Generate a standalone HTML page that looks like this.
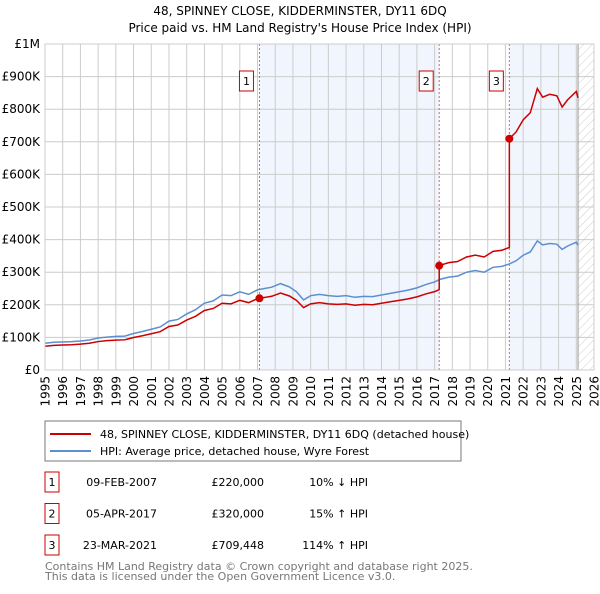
<!DOCTYPE html>
<html><head><meta charset="utf-8"><style>
body{margin:0;background:#fff;font-family:"DejaVu Sans","Liberation Sans",sans-serif;}
svg text{font-family:"DejaVu Sans","Liberation Sans",sans-serif;}
</style></head><body>
<svg id="c" width="600" height="590" xmlns="http://www.w3.org/2000/svg">
<defs><pattern id="hatch" width="6" height="6" patternUnits="userSpaceOnUse" patternTransform="rotate(45)"><line x1="0" y1="0" x2="0" y2="6" stroke="#ccc" stroke-width="1"/></pattern></defs>
<text x="300" y="15" text-anchor="middle" font-size="12">48, SPINNEY CLOSE, KIDDERMINSTER, DY11 6DQ</text>
<text x="300" y="32" text-anchor="middle" font-size="12">Price paid vs. HM Land Registry's House Price Index (HPI)</text>
<g id="plot"></g>
<rect x="45" y="421" width="416" height="40" fill="#fff" stroke="#777"/>
<line x1="50" y1="434" x2="91" y2="434" stroke="#cc0000" stroke-width="2"/>
<text x="100" y="438" font-size="11">48, SPINNEY CLOSE, KIDDERMINSTER, DY11 6DQ (detached house)</text>
<line x1="50" y1="451" x2="91" y2="451" stroke="#5b8fd0" stroke-width="2"/>
<text x="100" y="455" font-size="11">HPI: Average price, detached house, Wyre Forest</text>
<g id="tbl" font-size="11"></g>
<text x="45" y="570" font-size="11" fill="#777">Contains HM Land Registry data © Crown copyright and database right 2025.</text>
<text x="45" y="580" font-size="11" fill="#777">This data is licensed under the Open Government Licence v3.0.</text>
</svg>
<script>
const hpiYears=[1995,1995.5,1996,1996.5,1997,1997.5,1998,1998.5,1999,1999.5,2000,2000.5,2001,2001.5,2002,2002.5,2003,2003.5,2004,2004.5,2005,2005.5,2006,2006.5,2007,2007.4,2007.8,2008.3,2008.8,2009.2,2009.6,2010,2010.5,2011,2011.5,2012,2012.5,2013,2013.5,2014,2014.5,2015,2015.5,2016,2016.5,2017,2017.3,2017.8,2018.3,2018.8,2019.3,2019.8,2020.3,2020.8,2021.2,2021.6,2022,2022.4,2022.8,2023.1,2023.5,2023.9,2024.2,2024.5,2025,2025.1];
const hpiValues=[82,85,86,87,89,92,98,101,103,104,112,118,125,132,150,155,172,185,205,212,230,228,240,232,246,250,254,265,255,240,215,228,232,228,226,228,223,226,225,230,235,240,245,252,262,270,278,285,288,300,305,300,315,318,325,335,352,362,396,384,388,386,370,380,392,383];
const saleYears=[2007.11,2017.26,2021.22];
const salePrices=[220000,320000,709448];
const saleDates=["09-FEB-2007","05-APR-2017","23-MAR-2021"];
const salePriceLabels=["£220,000","£320,000","£709,448"];
const saleHpiLabels=["10% ↓ HPI","15% ↑ HPI","114% ↑ HPI"];
const yTicks=[0,100000,200000,300000,400000,500000,600000,700000,800000,900000,1000000];
const yTickLabels=["£0","£100K","£200K","£300K","£400K","£500K","£600K","£700K","£800K","£900K","£1M"];
const xTicks=[1995,1996,1997,1998,1999,2000,2001,2002,2003,2004,2005,2006,2007,2008,2009,2010,2011,2012,2013,2014,2015,2016,2017,2018,2019,2020,2021,2022,2023,2024,2025,2026];

const X0=45,X1=594,Y0=370,Y1=44;
const xs=y=>X0+(y-1995)/(2026-1995)*(X1-X0);
const ys=v=>Y0-v/1000000*(Y0-Y1);
const NS="http://www.w3.org/2000/svg";
const plot=document.getElementById('plot');
function mk(tag,attrs,parent){const e=document.createElementNS(NS,tag);for(const k in attrs)e.setAttribute(k,attrs[k]);(parent||plot).appendChild(e);return e;}
function hpiAt(y){for(let i=0;i<hpiYears.length-1;i++){if(y<=hpiYears[i+1]){const t=(y-hpiYears[i])/(hpiYears[i+1]-hpiYears[i]);return (hpiValues[i]+t*(hpiValues[i+1]-hpiValues[i]))*1000;}}return hpiValues[hpiValues.length-1]*1000;}

const bg=mk('rect',{x:X0,y:Y1,width:X1-X0,height:Y0-Y1,fill:'#fff'});


const sh1=mk('rect',{x:xs(saleYears[0]),y:Y1,width:xs(saleYears[1])-xs(saleYears[0]),height:Y0-Y1,fill:'#eef3fc',opacity:0.8});


const sh2=mk('rect',{x:xs(saleYears[2]),y:Y1,width:xs(2025.1)-xs(saleYears[2]),height:Y0-Y1,fill:'#eef3fc',opacity:0.8});


const ht=mk('rect',{x:xs(2025.1),y:Y1,width:X1-xs(2025.1),height:Y0-Y1,fill:'url(#hatch)'});



yTicks.forEach((v,i)=>{
  const g=mk('line',{x1:X0,x2:X1,y1:ys(v),y2:ys(v),stroke:'#ccc'});
  
  
  const t=mk('text',{x:40,y:ys(v)+4,'text-anchor':'end','font-size':12});
  t.textContent=yTickLabels[i];
  
  
});
xTicks.forEach(y=>{
  const g=mk('line',{x1:xs(y),x2:xs(y),y1:Y1,y2:Y0,stroke:'#ccc'});
  
  
  const tx=xs(y)+4.5,ty=376;
  const t=mk('text',{x:tx,y:ty,'text-anchor':'end','font-size':12,transform:'rotate(-90 '+tx+' '+ty+')'});
  t.textContent=y;
  
  
});
const fl=mk('line',{x1:xs(2025.1),x2:xs(2025.1),y1:Y1,y2:Y0,stroke:'#999'});



saleYears.forEach((y,i)=>{
  const l=mk('line',{x1:xs(y),x2:xs(y),y1:Y1,y2:Y0,stroke:'#e06060','stroke-dasharray':'2,2'});
  
  
  const r=mk('rect',{x:xs(y)-20,y:71,width:14,height:20,fill:'#fff',stroke:'#cc0000'});
  
  
  const t=mk('text',{x:xs(y)-13,y:85,'text-anchor':'middle','font-size':11});
  t.textContent=i+1;
  
  
});

const hp=mk('polyline',{points:hpiYears.map((y,i)=>xs(y)+','+ys(hpiValues[i]*1000)).join(' '),fill:'none',stroke:'#5b8fd0','stroke-width':1.5});



const pts=[];
function segIdx(y){let k=-1;saleYears.forEach((s,i)=>{if(y>=s)k=i;});return k;}
const allYears=hpiYears.filter(y=>y<=2025.1).concat(saleYears).sort((a,b)=>a-b);
allYears.forEach(y=>{
  let k=segIdx(y);
  if(k<0)k=0;
  const isSale=saleYears.indexOf(y);
  if(isSale>0){const p=saleYears[isSale-1];pts.push([y,salePrices[isSale-1]*hpiAt(y)/hpiAt(p)]);}
  pts.push([y,salePrices[k]*hpiAt(y)/hpiAt(saleYears[k])]);
});
const pl=mk('polyline',{points:pts.map(p=>xs(p[0])+','+ys(p[1])).join(' '),fill:'none',stroke:'#cc0000','stroke-width':1.5});


saleYears.forEach((y,i)=>{
  const c=mk('circle',{cx:xs(y),cy:ys(salePrices[i]),r:4,fill:'#cc0000'});
  
  
});
const bd=mk('rect',{x:X0,y:Y1,width:X1-X0,height:Y0-Y1,fill:'none',stroke:'#ccc'});



const tbl=document.getElementById('tbl');
saleYears.forEach((y,i)=>{
  const cy=482+i*31.5;
  const r=mk('rect',{x:45,y:cy-10,width:14,height:20,fill:'#fff',stroke:'#cc0000'},tbl);
  
  
  const cells=[[52,'middle',String(i+1)],[157,'end',saleDates[i]],[264,'end',salePriceLabels[i]],[368,'end',saleHpiLabels[i]]];
  cells.forEach(c=>{
    const t=mk('text',{x:c[0],y:cy+4,'text-anchor':c[1]},tbl);
    t.textContent=c[2];
    
    
  });
});
</script>
</body></html>
